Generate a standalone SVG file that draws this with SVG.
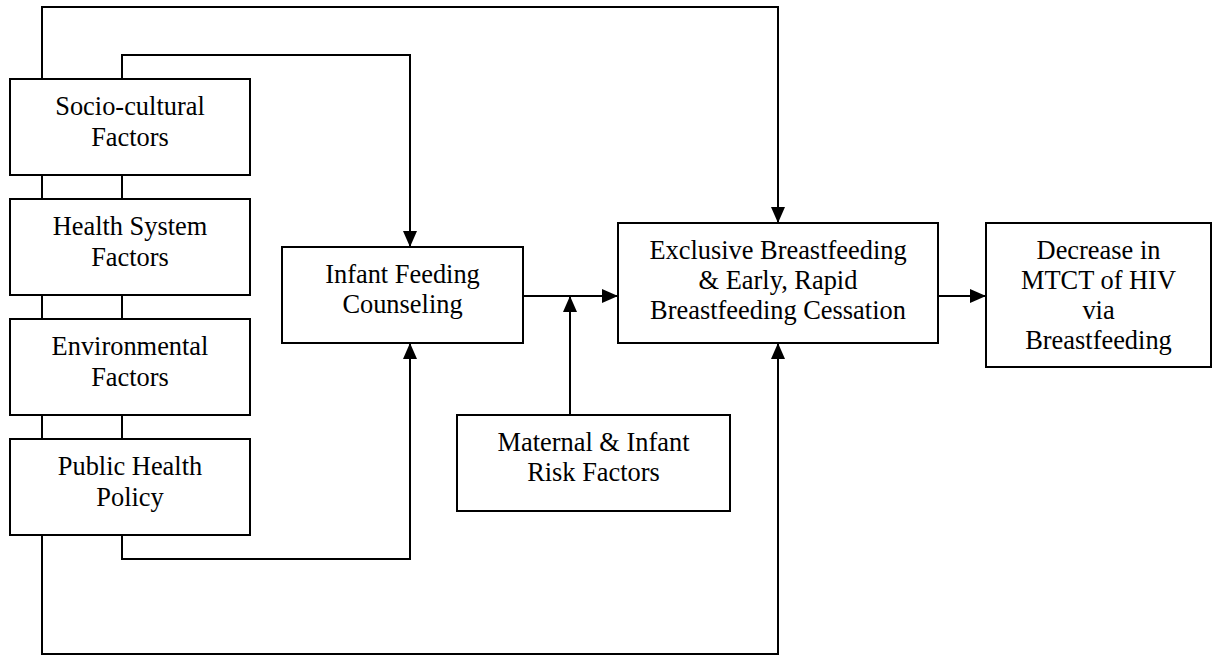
<svg xmlns="http://www.w3.org/2000/svg" width="1214" height="656" viewBox="0 0 1214 656">
<style>
.box{fill:#fff;stroke:#000;stroke-width:2}
.lbl{font-family:"Liberation Serif","Times New Roman",serif;font-size:26.4px;fill:#000;text-anchor:middle}
.ln{fill:none;stroke:#000;stroke-width:2}
.arr{fill:none;stroke:#000;stroke-width:2;marker-end:url(#ah)}
</style>
<defs>
<marker id="ah" viewBox="0 0 16 14" refX="16" refY="7" markerWidth="16" markerHeight="14" markerUnits="userSpaceOnUse" orient="auto">
<path d="M0,0 L16,7 L0,14 z" fill="#000"/>
</marker>
</defs>
<rect width="1214" height="656" fill="#fff"/>
<g id="connectors">
<path class="arr" d="M42,79 V7 H778 V223"/>
<path class="arr" d="M122,79 V55 H410 V247"/>
<path class="ln" d="M42,175 V199 M122,175 V199 M42,295 V319 M122,295 V319 M42,415 V439 M122,415 V439"/>
<path class="arr" d="M122,535 V559 H410 V343"/>
<path class="arr" d="M42,535 V654 H778 V343"/>
<path class="arr" d="M523,296 H618"/>
<path class="arr" d="M570,415 V296"/>
<path class="arr" d="M938,296 H986"/>
</g>
<g id="socio">
<rect class="box" x="10" y="79" width="240" height="96"/>
<text class="lbl" x="130" y="115">Socio-cultural</text>
<text class="lbl" x="130" y="145.5">Factors</text>
</g>
<g id="health">
<rect class="box" x="10" y="199" width="240" height="96"/>
<text class="lbl" x="130" y="235">Health System</text>
<text class="lbl" x="130" y="265.5">Factors</text>
</g>
<g id="environmental">
<rect class="box" x="10" y="319" width="240" height="96"/>
<text class="lbl" x="130" y="355">Environmental</text>
<text class="lbl" x="130" y="385.5">Factors</text>
</g>
<g id="policy">
<rect class="box" x="10" y="439" width="240" height="96"/>
<text class="lbl" x="130" y="475">Public Health</text>
<text class="lbl" x="130" y="505.5">Policy</text>
</g>
<g id="counseling">
<rect class="box" x="282" y="247" width="241" height="96"/>
<text class="lbl" x="402.5" y="283">Infant Feeding</text>
<text class="lbl" x="402.5" y="313">Counseling</text>
</g>
<g id="maternal">
<rect class="box" x="457" y="415" width="273" height="96"/>
<text class="lbl" x="593.5" y="451">Maternal &amp; Infant</text>
<text class="lbl" x="593.5" y="481">Risk Factors</text>
</g>
<g id="exclusive">
<rect class="box" x="618" y="223" width="320" height="120"/>
<text class="lbl" x="778" y="259">Exclusive Breastfeeding</text>
<text class="lbl" x="778" y="289">&amp; Early, Rapid</text>
<text class="lbl" x="778" y="319">Breastfeeding Cessation</text>
</g>
<g id="decrease">
<rect class="box" x="986" y="223" width="225" height="144"/>
<text class="lbl" x="1098.5" y="259">Decrease in</text>
<text class="lbl" x="1098.5" y="289">MTCT of HIV</text>
<text class="lbl" x="1098.5" y="319">via</text>
<text class="lbl" x="1098.5" y="349">Breastfeeding</text>
</g>
</svg>
